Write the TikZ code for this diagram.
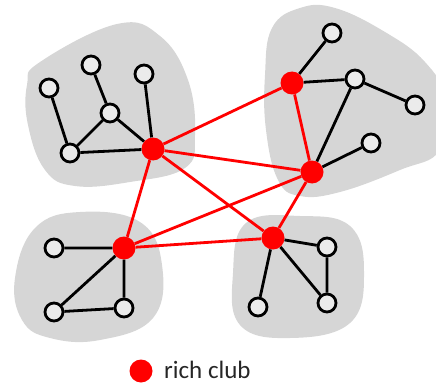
\documentclass[tikz,border=0pt]{standalone}
\usepackage{fontspec}
\setmainfont{Carlito}
\begin{document}
\begin{tikzpicture}[x=1pt,y=-1pt,
  blob/.style={fill=black!16},
  wnode/.style={circle,draw=black,line width=2.8pt,fill=black!8,minimum size=18pt,inner sep=0pt},
  rnode/.style={circle,fill=red,minimum size=23pt,inner sep=0pt},
  blackedge/.style={line width=2.8pt,black},
  rededge/.style={line width=2.8pt,red}]
\useasboundingbox (0,0) rectangle (436,385);
\begin{scope}
\clip (0,0) rectangle (436,385);
\fill[blob] plot[smooth cycle,tension=0.7] coordinates {(40,62) (117,24) (160,36) (188,80) (195,135) (185,168) (130,182) (75,186) (45,170) (28,125) (27,85)};
\fill[blob] plot[smooth cycle,tension=0.7] coordinates {(272,28) (300,8) (335,8) (385,32) (425,62) (446,100) (440,150) (400,170) (340,192) (300,196) (278,180) (266,130) (265,75)};
\fill[blob] plot[smooth cycle,tension=0.7] coordinates {(80,212) (140,222) (162,265) (153,318) (100,340) (50,338) (22,320) (15,278) (35,228)};
\fill[blob] plot[smooth cycle,tension=0.7] coordinates {(246,223) (300,216) (350,226) (364,272) (350,323) (290,338) (240,325) (233,273)};
\end{scope}
% nodes
\node[wnode] (a1) at (49,88) {};
\node[wnode] (a2) at (91,65) {};
\node[wnode] (a3) at (144,74) {};
\node[wnode] (a4) at (110,113) {};
\node[wnode] (a5) at (70,153) {};
\node[rnode] (R1) at (153,149) {};
\node[wnode] (b1) at (332,33) {};
\node[rnode] (R2) at (292,83) {};
\node[wnode] (b2) at (355,79) {};
\node[wnode] (b3) at (415,105) {};
\node[wnode] (b4) at (371,143) {};
\node[rnode] (R3) at (312,172) {};
\node[wnode] (c1) at (54,248) {};
\node[rnode] (R4) at (124,248) {};
\node[wnode] (c2) at (54,312) {};
\node[wnode] (c3) at (124,308) {};
\node[rnode] (R5) at (273,238) {};
\node[wnode] (d1) at (327,247) {};
\node[wnode] (d2) at (327,303) {};
\node[wnode] (d3) at (258,307) {};
% black edges
\draw[blackedge] (a1)--(a5) (a5)--(a4) (a4)--(a2) (a4)--(R1) (a5)--(R1) (a3)--(R1);
\draw[blackedge] (b1)--(R2) (R2)--(b2) (b2)--(b3) (b2)--(R3) (b4)--(R3);
\draw[blackedge] (c1)--(R4) (R4)--(c2) (R4)--(c3) (c2)--(c3);
\draw[blackedge] (R5)--(d1) (d1)--(d2) (R5)--(d2) (R5)--(d3);
% red edges
\draw[rededge] (R1)--(R2) (R1)--(R3) (R1)--(R4) (R1)--(R5) (R2)--(R3) (R3)--(R4) (R3)--(R5) (R4)--(R5);
% legend
\node[rnode] (leg) at (141,371) {};
\node[anchor=base west,inner sep=0pt,text depth=0pt,font=\fontsize{25}{29}\selectfont,text=black!85] (legtext) at (164,378) {rich club};
\end{tikzpicture}
\end{document}
